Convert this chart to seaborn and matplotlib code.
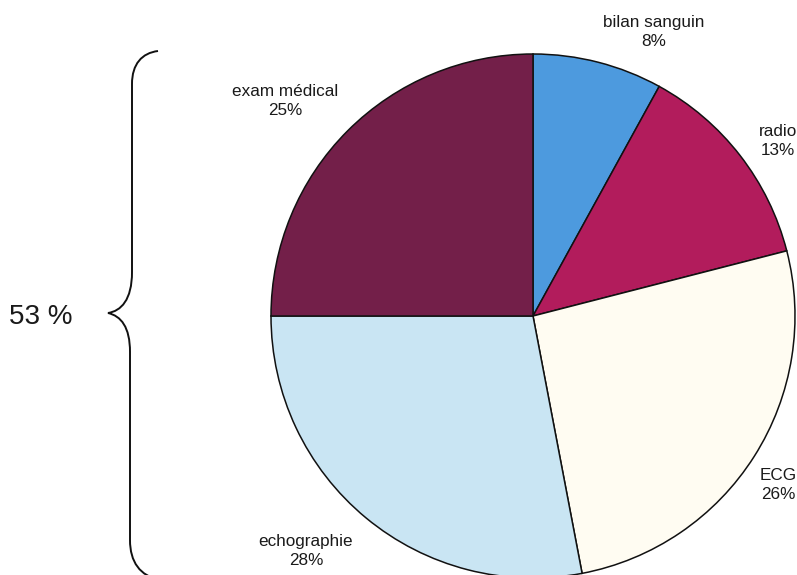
import matplotlib
matplotlib.use("Agg")
import matplotlib.pyplot as plt
from matplotlib.path import Path
from matplotlib.patches import PathPatch
import seaborn as sns

# données du camembert (sens horaire depuis midi)
categories = ["bilan sanguin", "radio", "ECG", "echographie", "exam médical"]
pourcentages = [8, 13, 26, 28, 25]
couleurs = ["#4d9ade", "#b21c5c", "#fffcf2", "#c9e5f3", "#731f49"]
total_label = "53 %"

W, H = 797, 575

sns.set_theme(style="white")
plt.rcParams["font.family"] = ["Liberation Sans", "DejaVu Sans"]

def px(x, y):
    # coordonnées pixel (y vers le bas) -> axes (y vers le haut)
    return x, H - y

fig = plt.figure(figsize=(W / 100, H / 100), dpi=100)
ax = fig.add_axes([0, 0, 1, 1])

ax.pie(
    pourcentages,
    colors=couleurs,
    startangle=90,
    counterclock=False,
    center=px(533, 316),
    radius=262,
    frame=True,
    wedgeprops=dict(edgecolor="#111111", linewidth=1.1),
)

# position des étiquettes (centre du bloc de texte, en pixels)
pos_labels = [(654, 32), (778, 141), (778, 485), (306, 551), (285, 101)]
for cat, val, (x, y) in zip(categories, pourcentages, pos_labels):
    ax.text(*px(x, y), f"{cat}\n{val}%", ha="center", va="center",
            fontsize=12.3, color="#1a1a1a", linespacing=1.3)

# accolade à gauche
pts = [
    (158, 51), (142, 53), (132, 64), (132, 84),
    (132, 272),
    (132, 300), (121, 311), (108, 313),
    (121, 316), (130, 327), (130, 352),
    (130, 540),
    (130, 562), (140, 576), (160, 580),
]
codes = [Path.MOVETO, Path.CURVE4, Path.CURVE4, Path.CURVE4,
         Path.LINETO,
         Path.CURVE4, Path.CURVE4, Path.CURVE4,
         Path.CURVE4, Path.CURVE4, Path.CURVE4,
         Path.LINETO,
         Path.CURVE4, Path.CURVE4, Path.CURVE4]
accolade = Path([px(x, y) for x, y in pts], codes)
ax.add_patch(PathPatch(accolade, facecolor="none", edgecolor="#111111", lw=1.4))

ax.text(*px(41, 317), total_label, ha="center", va="center",
        fontsize=20, color="#1a1a1a")

ax.set_xlim(0, W)
ax.set_ylim(0, H)
ax.set_aspect("equal")
ax.axis("off")

fig.savefig("out.png", dpi=100)
plt.close(fig)
